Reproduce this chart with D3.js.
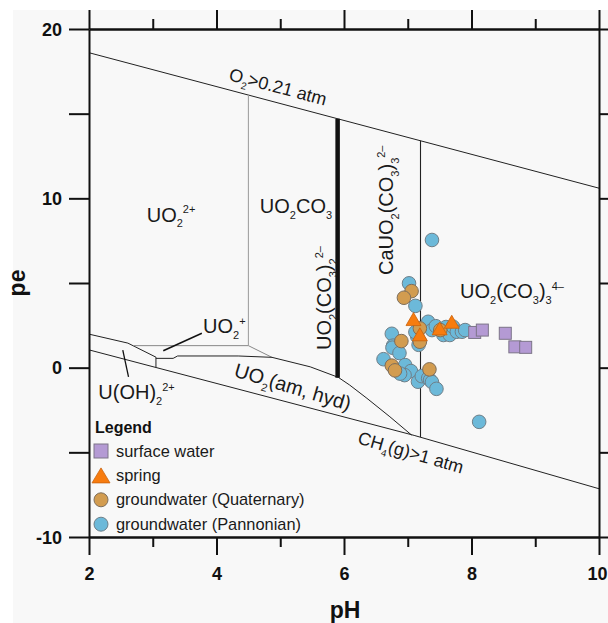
<!DOCTYPE html>
<html><head><meta charset="utf-8">
<script src="https://cdn.jsdelivr.net/npm/d3@7"></script>
<style>html,body{margin:0;padding:0;background:#fff;}svg{display:block;}</style>
</head><body>
<svg id="chart" width="608" height="623"></svg>
<script>
// ---------- data ----------
const xMajorTicks = [2, 4, 6, 8, 10];
const xMinorTicks = [3, 5, 7, 9];
const yTicks = [-10, -5, 0, 5, 10, 15, 20];
const yTickLabels = {"-10": "-10", "0": "0", "10": "10", "20": "20"};

const legendLabels = ["surface water", "spring", "groundwater (Quaternary)", "groundwater (Pannonian)"];

const surfaceWater = [[8.05,2.08],[8.17,2.22],[8.53,2.03],[8.68,1.23],[8.85,1.2]];
const spring = [[7.09,2.87],[7.19,1.97],[7.5,2.32],[7.69,2.71]];
const gwQuaternary = [[7.06,4.52],[6.94,4.13],[7.19,2.32],[7.19,1.53],[7.51,2.22],[6.9,1.57],[6.75,0.12],[6.8,-0.16],[7.34,-0.1]];
const gwPannonian = [
  [7.38,7.54],[7.02,4.98],[7.12,3.65],[7.32,2.71],[7.15,1.83],[7.12,2.1],[7.17,1.35],
  [7.38,2.22],[7.44,2.45],[7.56,1.93],[7.6,2.4],[7.66,1.93],[7.71,2.42],[7.77,2.12],[7.85,2.12],[7.9,2.22],
  [6.75,2.0],[6.77,1.3],[6.76,1.18],[6.87,0.86],[6.62,0.5],[6.96,0.15],[7.05,-0.2],[6.95,-0.44],[6.88,-0.35],
  [7.16,-0.83],[7.22,-0.5],[7.32,-0.63],[7.35,-0.73],[7.38,-0.85],[7.45,-1.25],[8.12,-3.2]
];

// stability-field boundaries (pH, pe)
const o2Line = [[2,18.6],[10,10.6]];
const ch4Line = [[2,1.05],[7.1,-4.0],[10,-7.15]];
const uoh2Upper = [[2,1.98],[2.61,1.45],[3.05,0.62]];
const uoh2Right = [[3.05,0.62],[3.05,0.02]];
const uo2pTop = [[2.69,1.3],[4.5,1.3],[4.87,0.61]];
const uo2amTop = [[3.05,0.55],[3.32,0.55],[3.39,0.69],[4.34,0.69],[4.87,0.61],[5.47,0.05],[5.91,-0.57],[6.09,-1.03],[6.36,-1.81],[6.72,-2.9],[7.06,-3.98]];
const uo2co3Left = [[4.5,1.3],[4.5,16.1]];
const uo2co32Line = [[5.9,-0.6],[5.9,14.7]];
const cauo2Line = [[7.2,-4.1],[7.2,13.4]];
const uo2pLeader = [[3.165,1.0],[3.77,2.03]];
const uoh2Leader = [[2.53,1.04],[2.62,-0.54]];

// ---------- setup ----------
const svg = d3.select("#chart");
const FONT = "'Liberation Sans', Arial, Helvetica, sans-serif";
const x = d3.scaleLinear().domain([2, 10]).range([89, 599]);
const y = d3.scaleLinear().domain([-10, 20]).range([537, 29]);

svg.append("rect").attr("x", 13).attr("y", 10).attr("width", 600).attr("height", 620).attr("fill", "#f8f8f8");

const line = d3.line().x(d => x(d[0])).y(d => y(d[1]));
const bounds = [
  [o2Line, "#222", 1], [ch4Line, "#222", 1], [uoh2Upper, "#222", 1], [uoh2Right, "#222", 1],
  [uo2pTop, "#888", 1], [uo2amTop, "#222", 1], [uo2co3Left, "#999", 1],
  [uo2co32Line, "#111", 4.5], [cauo2Line, "#222", 1.1],
  [uo2pLeader, "#111", 1.5], [uoh2Leader, "#111", 1.3]
];
const gb = svg.append("g");
bounds.forEach(([pts, col, w]) => {
  gb.append("path").attr("d", line(pts)).attr("fill", "none").attr("stroke", col).attr("stroke-width", w);
});

// ---------- chemical labels ----------
function chem(sel, parts, fs) {
  let off = 0;
  parts.forEach(([s, k]) => {
    const target = k === "sub" ? 0.28 * fs : k === "sup" ? -0.42 * fs : 0;
    sel.append("tspan").attr("dy", target - off).attr("font-size", k === "n" ? fs : fs * 0.55).text(s);
    off = target;
  });
}
function label(px, py, parts, fs, angle) {
  const t = svg.append("text").attr("transform", `translate(${x(px)},${y(py)}) rotate(${angle || 0})`)
    .attr("font-family", FONT).attr("fill", "#1a1a1a").attr("font-size", fs);
  chem(t, parts, fs);
  return t;
}
const ang = (a, b) => Math.atan2(y(b[1]) - y(a[1]), x(b[0]) - x(a[0])) * 180 / Math.PI;

label(2.905, 8.62, [["UO","n"],["2","sub"],["2+","sup"]], 20);
label(4.68, 9.13, [["UO","n"],["2","sub"],["CO","n"],["3","sub"]], 20);
label(3.79, 2.03, [["UO","n"],["2","sub"],["+","sup"]], 20);
label(2.146, -1.85, [["U(OH)","n"],["2","sub"],["2+","sup"]], 20);
label(7.82, 4.09, [["UO","n"],["2","sub"],["(CO","n"],["3","sub"],[")","n"],["3","sub"],["4–","sup"]], 20);
label(6.77, 5.47, [["CaUO","n"],["2","sub"],["(CO","n"],["3","sub"],[")","n"],["3","sub"],["2–","sup"]], 20, -90);
label(5.80, 1.04, [["UO","n"],["2","sub"],["(CO","n"],["3","sub"],[")","n"],["2","sub"],["2–","sup"]], 20, -90);
label(4.26, -0.5, [["UO","n"],["2","sub"],["(am, hyd)","n"]], 20, 16.7);
label(4.18, 16.99, [["O","n"],["2","sub"],[">0.21 atm","n"]], 18, ang(o2Line[0], o2Line[1]));
label(6.2, -4.47, [["CH","n"],["4","sub"],["(g)>1 atm","n"]], 18, ang(ch4Line[1], ch4Line[2]));

// ---------- axes ----------
const axColor = "#111";
function styleAxis(g, labels) {
  g.attr("color", axColor);
  g.selectAll("path.domain").attr("stroke-width", 2);
  g.selectAll(".tick line").attr("stroke-width", 2);
  if (!labels) g.selectAll(".tick text").remove();
  g.selectAll(".tick text").attr("font-family", FONT).attr("font-size", 18).attr("font-weight", "bold").attr("fill", "#111");
}
const bMaj = svg.append("g").attr("transform", "translate(0,537)")
  .call(d3.axisBottom(x).tickValues(xMajorTicks).tickSize(18).tickSizeOuter(0).tickFormat(d => d));
styleAxis(bMaj, true);
bMaj.selectAll(".tick text").attr("y", 43).attr("dy", 0).attr("x", d => d === 10 ? -2 : 0);
const bMin = svg.append("g").attr("transform", "translate(0,537)")
  .call(d3.axisBottom(x).tickValues(xMinorTicks).tickSize(10).tickSizeOuter(0));
styleAxis(bMin, false);
const tMaj = svg.append("g").attr("transform", "translate(0,29)")
  .call(d3.axisTop(x).tickValues(xMajorTicks).tickSize(19).tickSizeOuter(0));
styleAxis(tMaj, false);
const tMin = svg.append("g").attr("transform", "translate(0,29)")
  .call(d3.axisTop(x).tickValues(xMinorTicks).tickSize(10).tickSizeOuter(0));
styleAxis(tMin, false);
const lAx = svg.append("g").attr("transform", "translate(89,0)")
  .call(d3.axisLeft(y).tickValues(yTicks).tickSize(20).tickSizeOuter(0).tickFormat(d => yTickLabels[d] || ""));
styleAxis(lAx, true);
lAx.selectAll(".tick text").attr("x", -27).attr("dy", "0.35em");
const rAx = svg.append("g").attr("transform", "translate(599,0)")
  .call(d3.axisRight(y).tickValues(yTicks).tickSize(20).tickSizeOuter(0));
styleAxis(rAx, false);

svg.append("text").attr("transform", "translate(25,283) rotate(-90)").attr("text-anchor", "middle")
  .attr("font-family", FONT).attr("font-size", 23).attr("font-weight", "bold").attr("fill", "#111").text("pe");
svg.append("text").attr("x", 345).attr("y", 618).attr("text-anchor", "middle")
  .attr("font-family", FONT).attr("font-size", 23).attr("font-weight", "bold").attr("fill", "#111").text("pH");

// ---------- markers ----------
const colBlue = "#6cb9d9", colTan = "#d29c50", colOrange = "#f77c0f", colPurple = "#b49ad4";
function tri(w, h) { return `M0,${-h/2}L${w/2},${h/2}L${-w/2},${h/2}Z`; }
const gm = svg.append("g");
gm.selectAll("circle.p").data(gwPannonian).join("circle").attr("class", "p")
  .attr("cx", d => x(d[0])).attr("cy", d => y(d[1])).attr("r", 6.8)
  .attr("fill", colBlue).attr("stroke", "#6f7f88").attr("stroke-width", 1);
gm.selectAll("circle.q").data(gwQuaternary).join("circle").attr("class", "q")
  .attr("cx", d => x(d[0])).attr("cy", d => y(d[1])).attr("r", 6.8)
  .attr("fill", colTan).attr("stroke", "#7d6e5c").attr("stroke-width", 1);
gm.selectAll("path.s").data(spring).join("path").attr("class", "s")
  .attr("transform", d => `translate(${x(d[0])},${y(d[1])})`).attr("d", tri(15, 13))
  .attr("fill", colOrange).attr("stroke", "#c9620c").attr("stroke-width", 0.8);
gm.selectAll("rect.w").data(surfaceWater).join("rect").attr("class", "w")
  .attr("x", d => x(d[0]) - 6).attr("y", d => y(d[1]) - 6).attr("width", 12).attr("height", 12)
  .attr("fill", colPurple).attr("stroke", "#7c7488").attr("stroke-width", 1);

// ---------- legend ----------
const lg = svg.append("g");
lg.append("text").attr("x", 95).attr("y", 433).attr("font-family", FONT).attr("font-size", 16)
  .attr("font-weight", "bold").attr("fill", "#111").text("Legend");
legendLabels.forEach((lab, i) => {
  const cy = 451 + i * 24.4;
  if (i === 0) lg.append("rect").attr("x", 94).attr("y", cy - 7).attr("width", 14).attr("height", 14)
    .attr("fill", colPurple).attr("stroke", "#7c7488");
  if (i === 1) lg.append("path").attr("transform", `translate(101,${cy})`).attr("d", tri(18, 15))
    .attr("fill", colOrange).attr("stroke", "#c9620c").attr("stroke-width", 0.8);
  if (i === 2) lg.append("circle").attr("cx", 101).attr("cy", cy).attr("r", 7).attr("fill", colTan).attr("stroke", "#7d6e5c");
  if (i === 3) lg.append("circle").attr("cx", 101).attr("cy", cy).attr("r", 7).attr("fill", colBlue).attr("stroke", "#6f7f88");
  lg.append("text").attr("x", 116).attr("y", cy + 5.5).attr("font-family", FONT).attr("font-size", 16.4)
    .attr("fill", "#1a1a1a").text(lab);
});
</script>
</body></html>
